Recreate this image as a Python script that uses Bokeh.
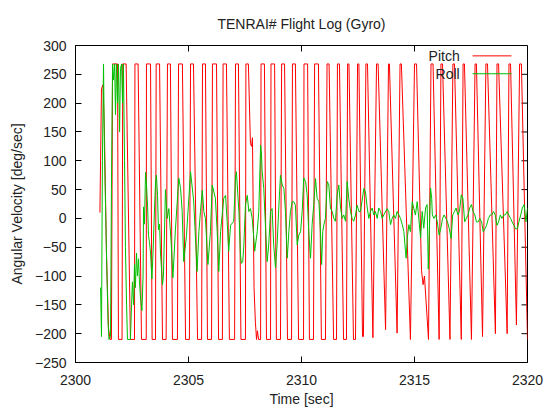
from bokeh.plotting import figure
from bokeh.models import Range1d, FixedTicker, Label
from bokeh.embed import file_html
from bokeh.resources import INLINE

# Gyro log: pitch rate (turning points of the saturated oscillation)
pitch_t = [
    2301.08, 2301.15, 2301.22, 2301.28, 2301.37, 2301.46, 2301.53, 2301.59,
    2301.64, 2301.86, 2301.90, 2302.06, 2302.09, 2302.24, 2302.43, 2302.61,
    2302.63, 2302.77, 2302.92, 2303.13, 2303.14, 2303.32, 2303.39, 2303.54,
    2303.57, 2303.72, 2303.85, 2304.01, 2304.07, 2304.20, 2304.29, 2304.51,
    2304.56, 2304.73, 2304.87, 2305.04, 2305.09, 2305.22, 2305.40, 2305.58,
    2305.62, 2305.75, 2305.84, 2306.02, 2306.06, 2306.24, 2306.33, 2306.50,
    2306.53, 2306.68, 2306.81, 2307.04, 2307.08, 2307.21, 2307.32, 2307.52,
    2307.54, 2307.65, 2307.74, 2307.79, 2307.83, 2307.90, 2307.96, 2308.01,
    2308.05, 2308.10, 2308.19, 2308.21, 2308.36, 2308.45, 2308.63, 2308.65,
    2308.81, 2308.89, 2309.07, 2309.12, 2309.25, 2309.38, 2309.56, 2309.60,
    2309.73, 2309.87, 2310.09, 2310.11, 2310.27, 2310.35, 2310.53, 2310.58,
    2310.75, 2310.88, 2311.06, 2311.13, 2311.22, 2311.42, 2311.55, 2311.59,
    2311.68, 2311.86, 2311.99, 2312.04, 2312.10, 2312.30, 2312.39, 2312.48,
    2312.54, 2312.70, 2312.74, 2312.85, 2312.92, 2313.16, 2313.32, 2313.39,
    2313.72, 2313.85, 2313.89, 2314.23, 2314.36, 2314.42, 2314.82, 2315.00,
    2315.09, 2315.31, 2315.38, 2315.44, 2315.62, 2315.73, 2315.82, 2316.09,
    2316.17, 2316.24, 2316.57, 2316.70, 2316.77, 2317.07, 2317.15, 2317.21,
    2317.52, 2317.68, 2317.74, 2318.01, 2318.16, 2318.23, 2318.58, 2318.65,
    2318.72, 2319.10, 2319.18, 2319.25, 2319.51, 2319.65, 2319.73, 2320.00,
]
pitch_v = [
    10, 225, 232, 150, -60, -190, -210, -210,
    268, 268, -210, -210, 268, 268, -210, -210,
    268, 268, -210, -210, 268, 268, -210, -210,
    268, 268, -210, -210, 268, 268, -210, -210,
    268, 268, -210, -210, 268, 268, -210, -210,
    268, 268, -210, -210, 268, 268, -210, -210,
    268, 268, -210, -210, 268, 268, -210, -210,
    268, 268, 130, 125, 140, -120, -180, -210,
    -195, -210, -210, 268, 268, -210, -210, 268,
    268, -210, -210, 268, 268, -210, -210, 268,
    268, -210, -210, 268, 268, -210, -210, 268,
    268, -210, -210, 268, 268, -210, -210, 268,
    268, -210, -210, 268, 268, -210, -210, 268,
    268, -205, -205, 268, 268, -207, 268, 268,
    -193, 268, 268, -199, 268, 268, -210, 268,
    268, -90, -115, -100, -210, 268, 268, -210,
    268, 268, -210, 268, 268, -210, 268, 268,
    -210, 268, 268, -205, 268, 268, -200, 268,
    268, -200, 268, 268, -185, 268, 268, -210,
]

# Gyro log: roll rate
roll_t = [
    2301.11, 2301.15, 2301.19, 2301.24, 2301.28, 2301.33, 2301.37, 2301.44,
    2301.48, 2301.55, 2301.59, 2301.64, 2301.68, 2301.73, 2301.77, 2301.81,
    2301.86, 2301.90, 2301.95, 2301.99, 2302.04, 2302.08, 2302.12, 2302.17,
    2302.21, 2302.26, 2302.30, 2302.43, 2302.48, 2302.52, 2302.57, 2302.61,
    2302.65, 2302.70, 2302.74, 2302.79, 2302.83, 2302.88, 2302.94, 2302.99,
    2303.01, 2303.05, 2303.10, 2303.14, 2303.19, 2303.23, 2303.27, 2303.32,
    2303.38, 2303.43, 2303.50, 2303.54, 2303.58, 2303.63, 2303.67, 2303.72,
    2303.76, 2303.81, 2303.85, 2303.89, 2303.94, 2303.98, 2304.06, 2304.13,
    2304.23, 2304.31, 2304.42, 2304.57, 2304.65, 2304.72, 2304.79, 2304.91,
    2305.09, 2305.23, 2305.38, 2305.46, 2305.53, 2305.61, 2305.68, 2305.75,
    2305.86, 2305.97, 2306.05, 2306.19, 2306.27, 2306.34, 2306.42, 2306.56,
    2306.64, 2306.71, 2306.78, 2306.86, 2307.00, 2307.08, 2307.12, 2307.23,
    2307.30, 2307.34, 2307.40, 2307.45, 2307.52, 2307.60, 2307.67, 2307.74,
    2307.82, 2307.89, 2307.93, 2308.04, 2308.11, 2308.19, 2308.23, 2308.26,
    2308.33, 2308.41, 2308.48, 2308.55, 2308.63, 2308.70, 2308.77, 2308.85,
    2308.92, 2309.00, 2309.07, 2309.15, 2309.22, 2309.29, 2309.37, 2309.44,
    2309.51, 2309.59, 2309.66, 2309.73, 2309.81, 2309.88, 2309.96, 2310.03,
    2310.10, 2310.18, 2310.25, 2310.32, 2310.40, 2310.47, 2310.54, 2310.62,
    2310.69, 2310.77, 2310.84, 2310.89, 2310.94, 2310.99, 2311.06, 2311.14,
    2311.21, 2311.28, 2311.36, 2311.43, 2311.50, 2311.58, 2311.65, 2311.73,
    2311.80, 2311.87, 2311.95, 2312.02, 2312.09, 2312.17, 2312.24, 2312.31,
    2312.39, 2312.46, 2312.54, 2312.61, 2312.76, 2312.83, 2312.91, 2312.98,
    2313.05, 2313.13, 2313.20, 2313.27, 2313.35, 2313.42, 2313.50, 2313.57,
    2313.64, 2313.79, 2313.86, 2313.94, 2314.01, 2314.08, 2314.16, 2314.23,
    2314.31, 2314.38, 2314.46, 2314.53, 2314.60, 2314.63, 2314.68, 2314.75,
    2314.82, 2314.90, 2314.97, 2315.04, 2315.12, 2315.19, 2315.27, 2315.34,
    2315.41, 2315.49, 2315.56, 2315.61, 2315.71, 2315.76, 2315.79, 2315.86,
    2315.94, 2316.01, 2316.09, 2316.16, 2316.24, 2316.31, 2316.39, 2316.46,
    2316.54, 2316.62, 2316.69, 2316.77, 2316.84, 2316.92, 2316.99, 2317.07,
    2317.14, 2317.22, 2317.29, 2317.37, 2317.44, 2317.52, 2317.59, 2317.67,
    2317.74, 2317.82, 2317.89, 2317.97, 2318.04, 2318.12, 2318.19, 2318.27,
    2318.35, 2318.42, 2318.50, 2318.57, 2318.65, 2318.72, 2318.80, 2318.87,
    2318.95, 2319.02, 2319.10, 2319.17, 2319.25, 2319.32, 2319.40, 2319.47,
    2319.55, 2319.62, 2319.70, 2319.77, 2319.85, 2319.93, 2320.00,
]
roll_v = [
    -120, -205, 100, 268, 120, 20, -60, -180,
    -210, -205, 50, 268, 240, 268, 180, 268,
    200, 268, 150, 260, 268, 200, 268, 100,
    -50, -150, -210, -210, -150, -110, -150, -80,
    -120, -60, -100, -70, -110, -140, -160, -100,
    20, -10, 80, 60, 20, -30, -40, -60,
    -105, -60, 20, 60, 75, 40, -20, -10,
    -60, -90, -115, -100, -20, 50, 0, 17,
    -40, -103, -20, 70, 52, 12, -75, -30,
    81, 30, -92, -23, 12, 49, 12, 0,
    -80, -23, 58, 35, -23, -92, -23, 35,
    40, -5, -57, -12, -5, 70, 81, 12,
    -63, -78, -75, -46, 23, 40, 12, 17,
    0, -34, -57, -23, 12, 127, 110, 81,
    52, -17, -75, -46, 12, 17, -46, -86,
    -46, 23, 75, 58, 52, 12, -69, -23,
    12, 29, 29, 23, -46, -29, -23, 12,
    70, 64, 41, -23, -69, -11, 23, 69,
    35, 29, -23, -80, -23, -11, 0, 64,
    58, 18, 12, 0, -5, 41, 58, 18,
    0, 6, -5, 64, 35, 12, 0, -5,
    6, 23, 12, 12, 52, 46, 18, 0,
    12, 18, 6, 12, 0, 18, 12, 0,
    6, 17, 12, -11, 0, 6, 0, 12,
    6, 0, -11, -23, -57, -69, -34, -11,
    -23, 29, 17, 6, 29, 0, -34, 12,
    -17, 18, 24, -88, 53, 35, 6, 0,
    6, -6, -29, -18, 0, 6, 0, -6,
    -18, -35, 6, 12, 18, 6, 12, 41,
    35, -6, 0, 6, 18, 24, 12, 6,
    -6, -6, 0, -6, -23, -18, -12, 0,
    6, 6, 12, 6, -12, -6, 6, 0,
    6, 6, 12, 6, 0, -6, -12, -18,
    -18, -6, 6, 18, 24, -6, 18,
]

assert len(pitch_t) == len(pitch_v)
assert len(roll_t) == len(roll_v)

x_ticks = [2300, 2305, 2310, 2315, 2320]
y_ticks = [-250, -200, -150, -100, -50, 0, 50, 100, 150, 200, 250, 300]

FONT = "Liberation Sans"
TEXT = "#222222"
PITCH_COLOR = "#ff0000"
ROLL_COLOR = "#00c000"

WIDTH, HEIGHT = 545, 410
BORDER_L, BORDER_R, BORDER_T, BORDER_B = 75, 18, 44, 48
X0, X1 = 2300, 2320
Y0, Y1 = -250, 300
TICK_LEN = 6  # px, ticks point into the frame

frame_w = WIDTH - BORDER_L - BORDER_R
frame_h = HEIGHT - BORDER_T - BORDER_B
x_per_px = (X1 - X0) / frame_w
y_per_px = (Y1 - Y0) / frame_h

p = figure(
    width=WIDTH, height=HEIGHT,
    output_backend="svg", toolbar_location=None,
    x_range=Range1d(X0, X1), y_range=Range1d(Y0, Y1),
    title="TENRAI# Flight Log (Gyro)",
    x_axis_label="Time [sec]",
    y_axis_label="Angular Velocity [deg/sec]",
    min_border_left=BORDER_L, min_border_right=BORDER_R,
    min_border_top=BORDER_T, min_border_bottom=BORDER_B,
)
p.background_fill_color = "white"
p.border_fill_color = "white"
p.outline_line_color = "black"
p.outline_line_width = 1
p.xgrid.visible = False
p.ygrid.visible = False

p.title.align = "center"
p.title.text_font = FONT
p.title.text_font_size = "14px"
p.title.text_font_style = "normal"
p.title.text_color = TEXT
p.title.standoff = 27


def style_axis(ax, ticks):
    ax.ticker = FixedTicker(ticks=ticks)
    ax.axis_line_color = "black"
    ax.major_tick_line_color = "black"
    ax.major_tick_in = TICK_LEN
    ax.major_tick_out = 0
    ax.minor_tick_line_color = None
    ax.major_label_text_font = FONT
    ax.major_label_text_font_size = "14px"
    ax.major_label_text_color = TEXT
    ax.axis_label_text_font = FONT
    ax.axis_label_text_font_size = "14px"
    ax.axis_label_text_font_style = "normal"
    ax.axis_label_text_color = TEXT


style_axis(p.xaxis[0], x_ticks)
p.xaxis[0].major_label_standoff = 12
p.xaxis[0].axis_label_standoff = 3

style_axis(p.yaxis[0], y_ticks)
p.yaxis[0].major_label_standoff = 9
p.yaxis[0].axis_label_standoff = 7

# mirrored tick marks on the top and right borders, pointing inward
p.segment(x0=x_ticks, y0=[Y1] * len(x_ticks), x1=x_ticks,
          y1=[Y1 - TICK_LEN * y_per_px] * len(x_ticks),
          line_color="black", line_width=1)
p.segment(x0=[X1] * len(y_ticks), y0=y_ticks,
          x1=[X1 - TICK_LEN * x_per_px] * len(y_ticks), y1=y_ticks,
          line_color="black", line_width=1)

p.line(pitch_t, pitch_v, line_color=PITCH_COLOR, line_width=1)
p.line(roll_t, roll_v, line_color=ROLL_COLOR, line_width=1)

# key in the upper right corner: text, then a line sample
key_text_x = 2317.0
key_line_x0, key_line_x1 = 2317.57, 2319.29
key_rows = [("Pitch", 282, PITCH_COLOR), ("Roll", 251, ROLL_COLOR)]
for name, ky, color in key_rows:
    p.add_layout(Label(
        x=key_text_x, y=ky, text=name,
        text_align="right", text_baseline="middle",
        text_font=FONT, text_font_size="14px", text_color=TEXT,
    ))
    p.segment(x0=[key_line_x0], y0=[ky], x1=[key_line_x1], y1=[ky],
              line_color=color, line_width=1)

open("out.html", "w").write(file_html(p, INLINE))
